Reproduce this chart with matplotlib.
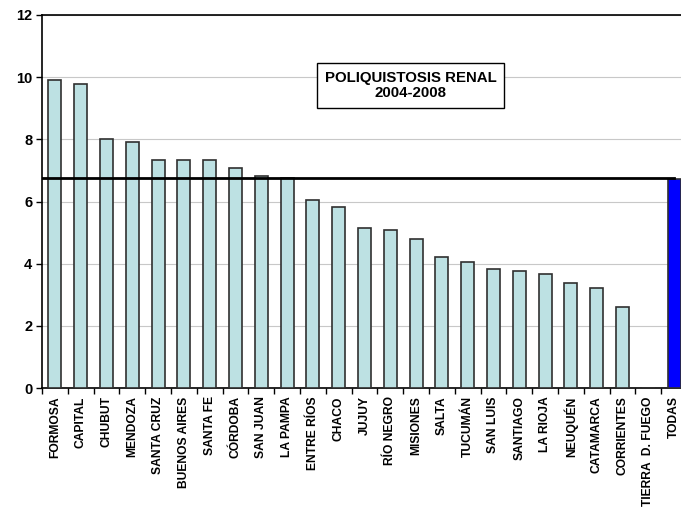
import matplotlib
matplotlib.use("Agg")
import matplotlib.pyplot as plt
import numpy as np

categories = ["FORMOSA", "CAPITAL", "CHUBUT", "MENDOZA", "SANTA CRUZ", "BUENOS AIRES",
              "SANTA FE", "CÓRDOBA", "SAN JUAN", "LA PAMPA", "ENTRE RÍOS", "CHACO",
              "JUJUY", "RÍO NEGRO", "MISIONES", "SALTA", "TUCUMÁN", "SAN LUIS",
              "SANTIAGO", "LA RIOJA", "NEUQUÉN", "CATAMARCA", "CORRIENTES",
              "TIERRA  D. FUEGO", "TODAS"]
values = [9.91, 9.77, 8.00, 7.91, 7.35, 7.32, 7.32, 7.08, 6.81, 6.76, 6.04, 5.81,
          5.14, 5.09, 4.80, 4.23, 4.04, 3.82, 3.76, 3.66, 3.39, 3.23, 2.61, 0.0, 6.72]
reference = 6.74
yticks = [0, 2, 4, 6, 8, 10, 12]
title_text = "POLIQUISTOSIS RENAL\n2004-2008"

plt.rcParams['font.family'] = ['Liberation Sans', 'DejaVu Sans']

fig = plt.figure(figsize=(6.81, 5.14), dpi=100)
ax = fig.add_axes([42/681, 1-388/514, 645/681, 373/514])

x = np.arange(len(categories))
colors = ['#BDE1E3'] * (len(categories) - 1) + ['#0000FF']
ax.bar(x, values, width=0.5, color=colors, edgecolor='#303030', linewidth=1.2, zorder=3)

ax.set_xlim(-0.5, len(categories) - 0.5)
ax.set_ylim(0, 12)
ax.set_yticks(yticks)
ax.set_yticklabels([str(t) for t in yticks], fontsize=10.5, fontweight='bold')
ax.yaxis.grid(True, color='#C8C8C8', linewidth=0.8, zorder=0)
ax.set_axisbelow(True)

ax.plot([-0.5, len(categories) - 1], [reference, reference], color='black',
        linewidth=2.0, zorder=4)

ax.set_xticks(x)
ax.set_xticklabels(categories, rotation=90, fontsize=8.7, fontweight='bold')
ax.tick_params(axis='x', which='major', length=0, pad=6)
ax.set_xticks(np.arange(-0.5, len(categories), 1), minor=True)
ax.tick_params(axis='x', which='minor', length=4, width=1, direction='out')
ax.tick_params(axis='y', length=4, width=1, direction='out', pad=3)

for side in ['left', 'bottom', 'top']:
    ax.spines[side].set_color('black')
    ax.spines[side].set_linewidth(1.2)
ax.spines['right'].set_visible(False)

ax.text(410.5/681, 1 - 85.5/514, title_text, transform=fig.transFigure,
        ha='center', va='center', fontsize=10.8, fontweight='bold', linespacing=1.15,
        bbox=dict(boxstyle='square,pad=0.5', facecolor='white', edgecolor='black', linewidth=1.0),
        zorder=5)

fig.savefig("out.png", dpi=100)
